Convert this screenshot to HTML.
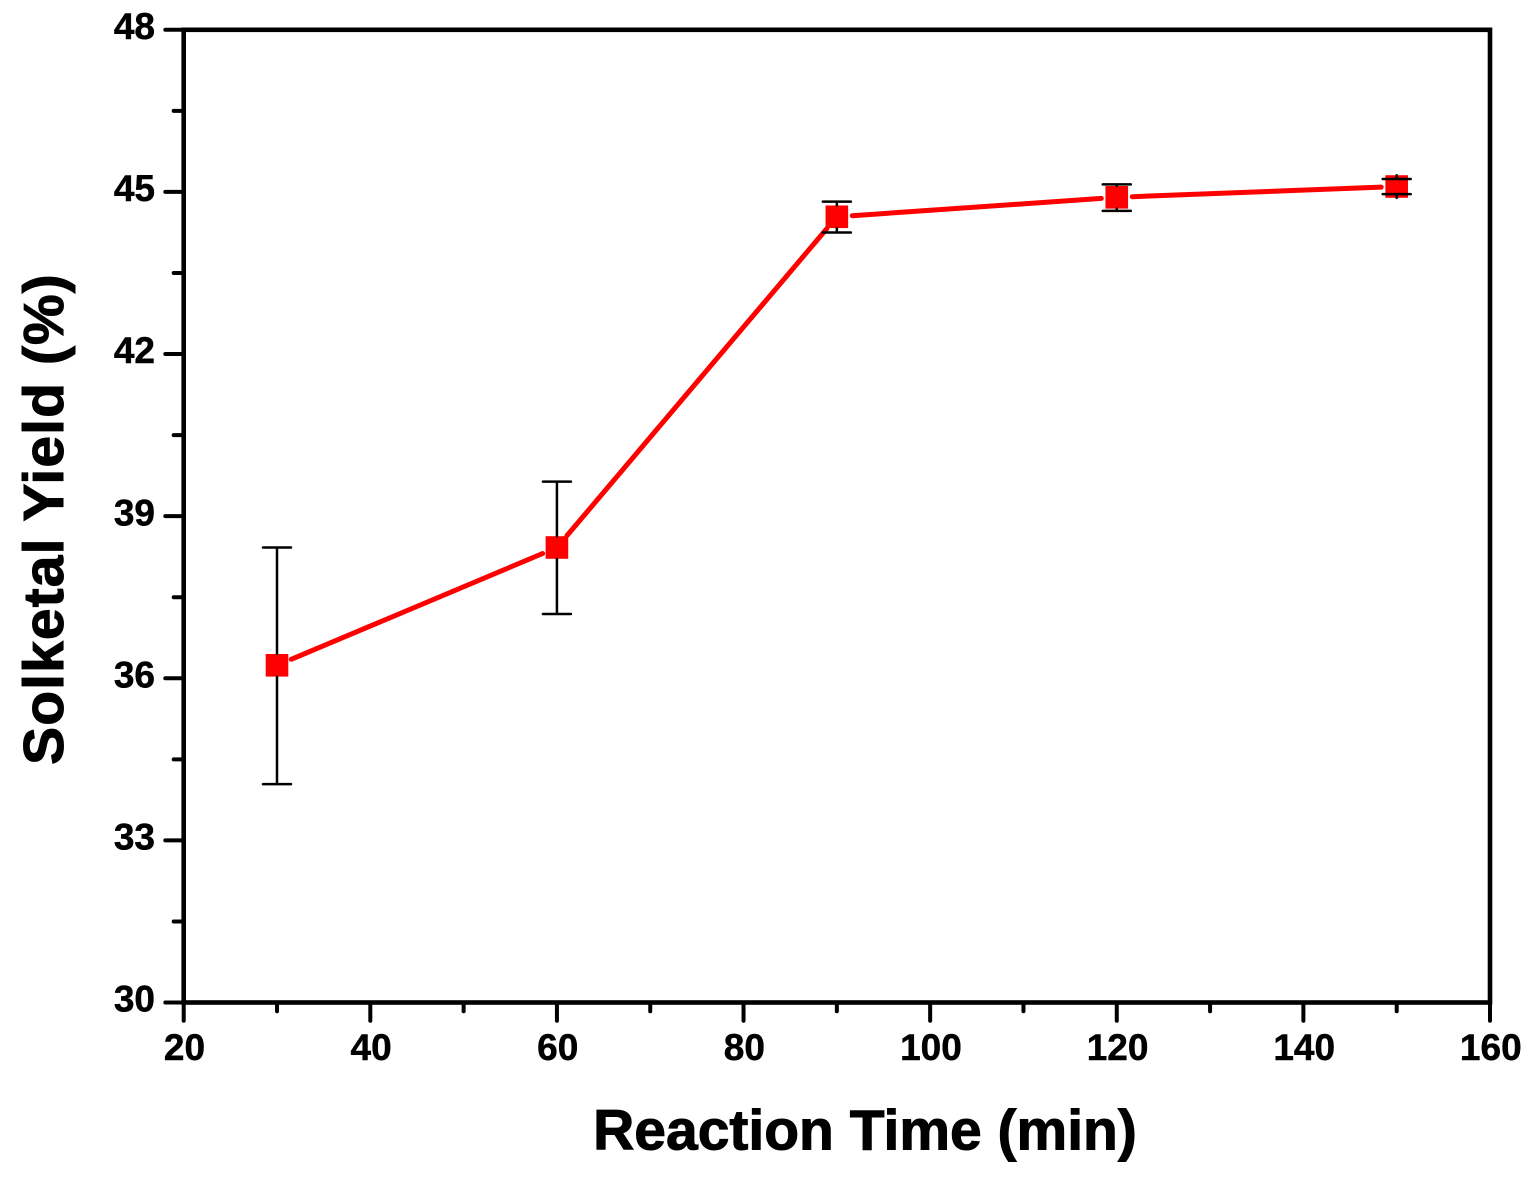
<!DOCTYPE html>
<html>
<head>
<meta charset="utf-8">
<style>
html,body{margin:0;padding:0;background:#fff;width:1534px;height:1181px;overflow:hidden}
svg{display:block;font-family:"Liberation Sans",Arial,sans-serif}
</style>
</head>
<body>
<svg id="chart" width="1534" height="1181" viewBox="0 0 1534 1181" xmlns="http://www.w3.org/2000/svg">
<rect x="183.7" y="29.8" width="1306.3" height="972.7" fill="#fff" stroke="#000" stroke-width="4.6"/>
<g id="ticks"></g>
<g id="series"></g>
<text x="865" y="1149.5" font-size="57" font-weight="700" text-anchor="middle" stroke="#000" stroke-width="1">Reaction Time (min)</text>
<text transform="translate(63,519) rotate(-90)" font-size="57" font-weight="700" text-anchor="middle" letter-spacing="1.1" stroke="#000" stroke-width="1">Solketal Yield (%)</text>
</svg>
<script>
const times = [30, 60, 90, 120, 150];
const yields = [36.24, 38.42, 44.54, 44.9, 45.1];
const errLow = [34.04, 37.19, 44.25, 44.65, 44.96];
const errHigh = [38.42, 39.64, 44.82, 45.14, 45.24];
const xTickLabels = [20, 40, 60, 80, 100, 120, 140, 160];
const xMinorTicks = [30, 50, 70, 90, 110, 130, 150];
const yTickLabels = [30, 33, 36, 39, 42, 45, 48];
const yMinorTicks = [31.5, 34.5, 37.5, 40.5, 43.5, 46.5];

const NS = 'http://www.w3.org/2000/svg';
const sx = v => 183.7 + (v - 20) * (1490 - 183.7) / 140;
const sy = v => 1002.5 - (v - 30) * (1002.5 - 29.8) / 18;
function mk(parent, tag, attrs) {
  const el = document.createElementNS(NS, tag);
  for (const k in attrs) el.setAttribute(k, attrs[k]);
  parent.appendChild(el);
  return el;
}
const tg = document.getElementById('ticks');
const sg = document.getElementById('series');
const tickStyle = {stroke: '#000', 'stroke-width': 4, 'stroke-linecap': 'round'};

xTickLabels.forEach(v => {
  const t = mk(tg, 'line', {x1: sx(v), x2: sx(v), y1: 1002.5, y2: 1020.7, ...tickStyle});
  
  
  const l = mk(tg, 'text', {x: sx(v) + 0.8, y: 1060, 'font-size': 37, 'font-weight': 700, 'text-anchor': 'middle', stroke: '#000', 'stroke-width': 0.5});
  
  
  l.textContent = v;
});
xMinorTicks.forEach(v => {
  const t = mk(tg, 'line', {x1: sx(v), x2: sx(v), y1: 1002.5, y2: 1011.3, ...tickStyle});
  
  
});
yTickLabels.forEach(v => {
  const t = mk(tg, 'line', {x1: 165.3, x2: 183.7, y1: sy(v), y2: sy(v), ...tickStyle});
  
  
  const l = mk(tg, 'text', {x: 155, y: sy(v) + 9.2, 'font-size': 37, 'font-weight': 700, 'text-anchor': 'end', stroke: '#000', 'stroke-width': 0.5});
  
  
  l.textContent = v;
});
yMinorTicks.forEach(v => {
  const t = mk(tg, 'line', {x1: 173.7, x2: 183.7, y1: sy(v), y2: sy(v), ...tickStyle});
  
  
});

for (let i = 0; i < times.length - 1; i++) {
  const x1 = sx(times[i]), y1 = sy(yields[i]), x2 = sx(times[i + 1]), y2 = sy(yields[i + 1]);
  const d = Math.hypot(x2 - x1, y2 - y1), ux = (x2 - x1) / d, uy = (y2 - y1) / d;
  const s = mk(sg, 'line', {x1: x1 + ux * 15.5, y1: y1 + uy * 15.5, x2: x2 - ux * 15.5, y2: y2 - uy * 15.5, stroke: '#f00', 'stroke-width': 5, 'stroke-linecap': 'round'});
  
  
}
times.forEach((v, i) => {
  const m = mk(sg, 'rect', {x: sx(v) - 11.3, y: sy(yields[i]) - 11.3, width: 22.6, height: 22.6, fill: '#f00'});
  
  
});
times.forEach((v, i) => {
  const x = sx(v), c = sy(yields[i]), hi = sy(errHigh[i]), lo = sy(errLow[i]);
  const e = mk(sg, 'path', {
    d: `M${x - 14} ${hi}H${x + 14}M${x} ${hi}V${c - 11.3}M${x} ${c + 11.3}V${lo}M${x - 14} ${lo}H${x + 14}`,
    fill: 'none', stroke: '#000', 'stroke-width': 2.5, 'stroke-linecap': 'round'
  });
  
  
});
</script>
</body>
</html>
